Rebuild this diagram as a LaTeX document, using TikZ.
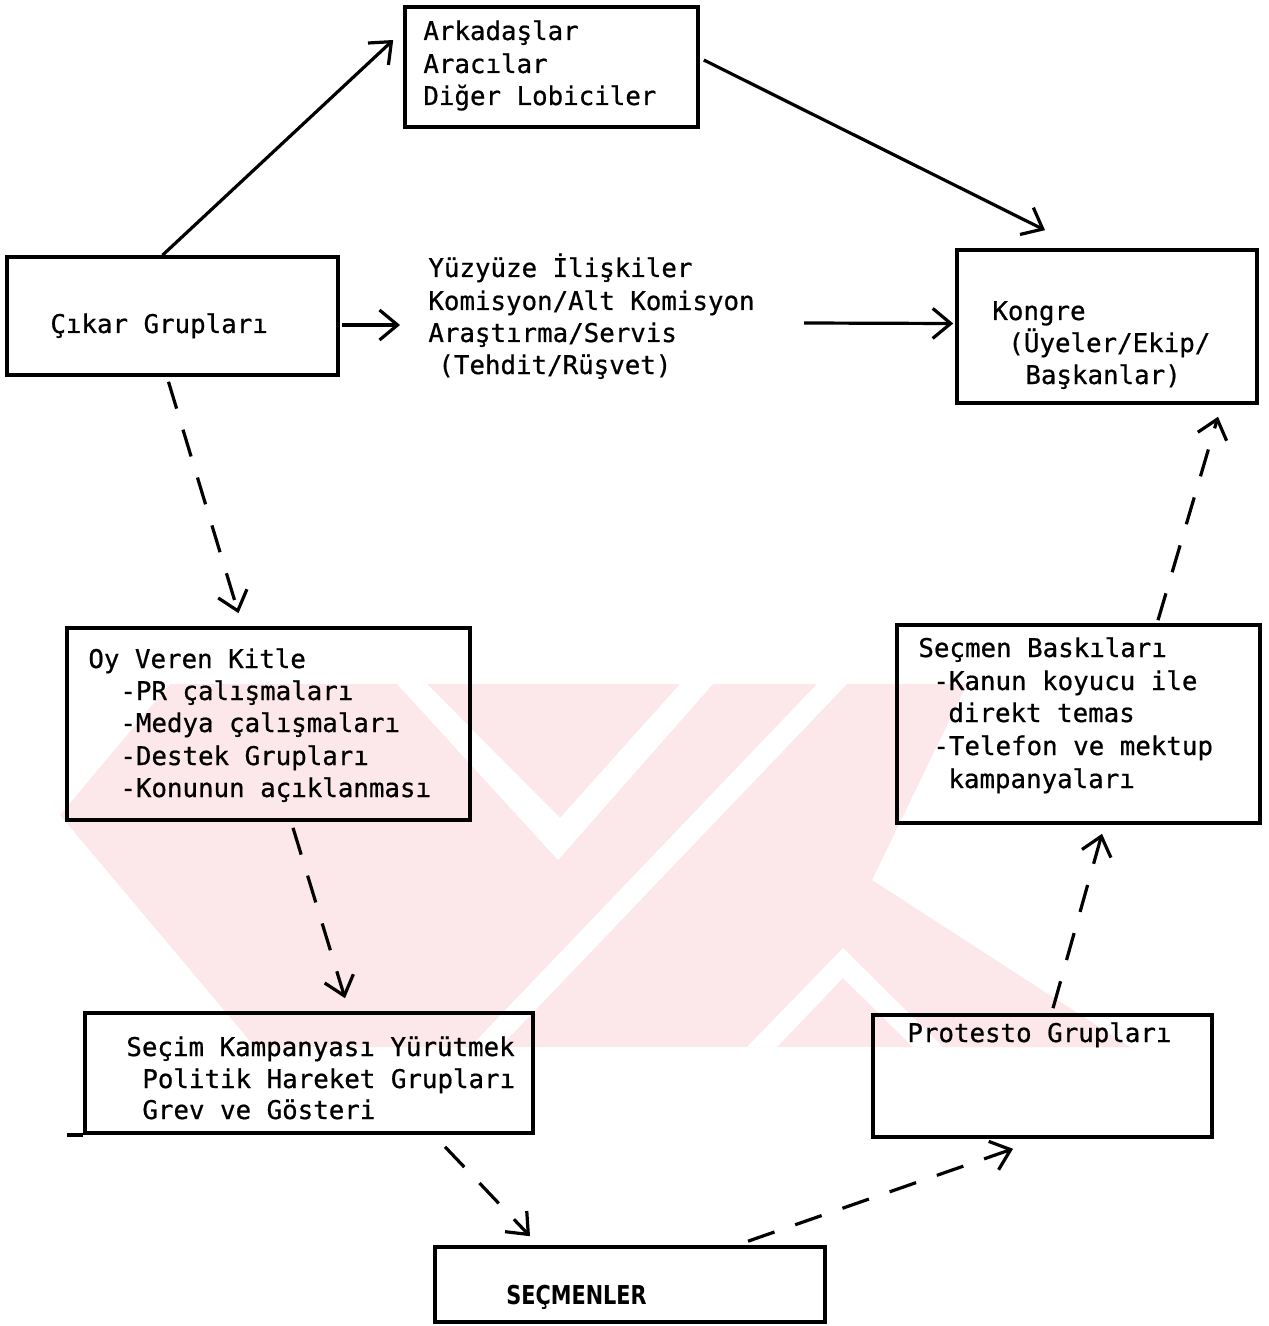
\documentclass[tikz,border=0pt]{standalone}
\usepackage{fontspec}
\setmonofont{DejaVu Sans Mono}[FakeBold=0.7]
\newfontfamily\capsfont{DejaVu Sans}[FakeStretch=0.8]
\usetikzlibrary{arrows.meta,calc}
\definecolor{wmark}{RGB}{252,231,235}
\begin{document}
\begin{tikzpicture}[x=0.5pt,y=-0.5pt,
  box/.style={draw, line width=1.8pt, inner sep=0pt},
  txt/.style={anchor=base west, inner sep=0pt, font=\ttfamily\fontsize{12.9}{16}\selectfont},
  link/.style={line width=1.6pt, -{Straight Barb[length=9pt,width=15pt,line width=1.6pt]}},
  dlink/.style={link, dash pattern=on 14pt off 11pt},
  stripe/.style={fill=white, draw=none}]
\useasboundingbox (0,0) rectangle (1268,1326);

% watermark (faint background emblem)
\fill[wmark] (170,684) -- (967,684) -- (872,880) -- (1130,1047) -- (255,1047) -- (60,815) -- cycle;
\fill[stripe] (397,684) -- (427,684) -- (560,818) -- (680,684) -- (713,684) -- (558,860) -- cycle;
\fill[stripe] (817,684) -- (847,684) -- (500,1047) -- (470,1047) -- cycle;
\fill[stripe] (843,948) -- (943,1047) -- (913,1047) -- (843,978) -- (777,1047) -- (747,1047) -- cycle;

% boxes
\node[box, minimum width=146.5pt, minimum height=60pt] (ark) at (551.5,67) {};
\node[box, minimum width=165.5pt, minimum height=59pt] (cikar) at (172.5,316) {};
\node[box, minimum width=150pt, minimum height=76.5pt] (kongre) at (1107,326.5) {};
\node[box, minimum width=201.5pt, minimum height=96pt] (oy) at (268.5,724) {};
\node[box, minimum width=181.5pt, minimum height=99pt] (baski) at (1078.5,724) {};
\node[box, minimum width=224pt, minimum height=60pt] (secim) at (309,1073) {};
\node[box, minimum width=169.5pt, minimum height=61pt] (protesto) at (1042.5,1076) {};
\node[box, minimum width=195pt, minimum height=37.5pt] (secmen) at (630,1284.5) {};
\draw[line width=1.8pt] (secim.south west) -- ++(-16,0);

% texts
\node[txt] (ark1) at (423,40) {Arkadaşlar};
\node[txt] (ark2) at (423,73) {Aracılar};
\node[txt] (ark3) at (423,105) {Diğer Lobiciler};

\node[txt] (cik1) at (50,333) {Çıkar Grupları};

\node[txt] (mid1) at (428,277) {Yüzyüze İlişkiler};
\node[txt] (mid2) at (428,310) {Komisyon/Alt Komisyon};
\node[txt] (mid3) at (428,342) {Araştırma/Servis};
\node[txt] (mid4) at (438,374) {(Tehdit/Rüşvet)};

\node[txt] (kon1) at (992,320) {Kongre};
\node[txt] (kon2) at (1008,352) {(Üyeler/Ekip/};
\node[txt] (kon3) at (1025,384) {Başkanlar)};

\node[txt] (oy1) at (88,668) {Oy Veren Kitle};
\node[txt] (oy2) at (120,700) {-PR çalışmaları};
\node[txt] (oy3) at (120,732) {-Medya çalışmaları};
\node[txt] (oy4) at (120,765) {-Destek Grupları};
\node[txt] (oy5) at (120,797) {-Konunun açıklanması};

\node[txt] (bas1) at (918,657) {Seçmen Baskıları};
\node[txt] (bas2) at (933,690) {-Kanun koyucu ile};
\node[txt] (bas3) at (948,722) {direkt temas};
\node[txt] (bas4) at (933,755) {-Telefon ve mektup};
\node[txt] (bas5) at (948,788) {kampanyaları};

\node[txt] (sec1) at (126,1056) {Seçim Kampanyası Yürütmek};
\node[txt] (sec2) at (142,1088) {Politik Hareket Grupları};
\node[txt] (sec3) at (142,1119) {Grev ve Gösteri};

\node[txt] (pro1) at (907,1042) {Protesto Grupları};

\node[anchor=base west, inner sep=0pt, font=\capsfont\bfseries\fontsize{13}{15}\selectfont] (sm1) at (506,1304) {SEÇMENLER};

% connectors
\draw[link] ($(cikar.north)+(-10,0)$) -- ($(ark.west)+(-10,-27)$);
\draw[link] ($(ark.east)+(4,-7)$) -- ($(kongre.north)+(-62,-18)$);
\draw[link] ($(cikar.east)+(2,9)$) -- ($(mid2.base west)+(-28,15)$);
\draw[link] ($(mid2.base east)+(49,13)$) -- ($(kongre.west)+(-2,-3)$);

\draw[dlink] ($(cikar.south)+(-4,5)$) -- ($(oy.north)+(-30,-13)$);
\draw[dlink] ($(oy.south)+(24.5,6)$) -- ($(secim.north)+(36,-13)$);
\draw[dlink] ($(secim.south)+(136,12)$) -- ($(secmen.north)+(-100,-9)$);
\draw[dlink] ($(secmen.north)+(118,-4)$) -- ($(protesto.south)+(-29.5,10)$);
\draw[dlink] ($(protesto.north)+(10.5,-5)$) -- ($(baski.south)+(23.5,9)$);
\draw[dlink] ($(baski.north)+(79.5,-3)$) -- ($(kongre.south)+(111,12)$);
\end{tikzpicture}
\end{document}
